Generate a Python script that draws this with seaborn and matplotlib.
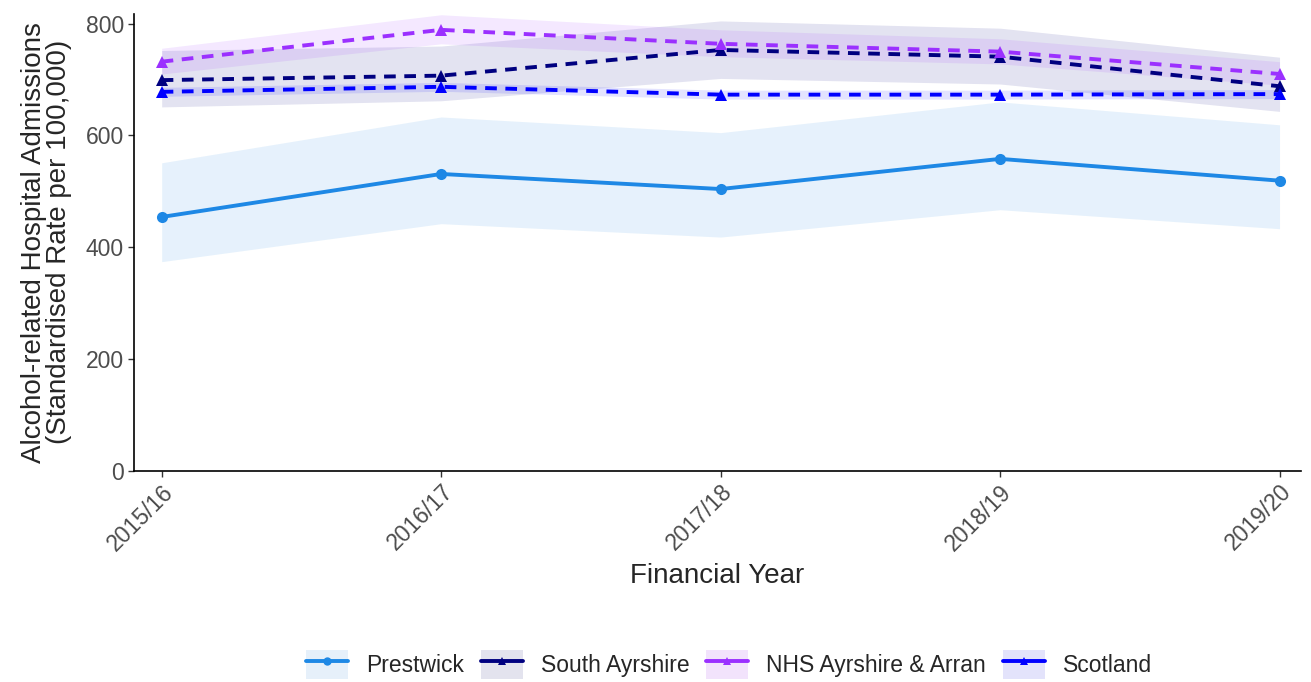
import numpy as np
import pandas as pd
import matplotlib
matplotlib.use("Agg")
import matplotlib.pyplot as plt
import seaborn as sns
from matplotlib.patches import Patch
from matplotlib.lines import Line2D
from matplotlib.legend_handler import HandlerTuple

years = ["2015/16", "2016/17", "2017/18", "2018/19", "2019/20"]
areas = ["Prestwick", "South Ayrshire", "NHS Ayrshire & Arran", "Scotland"]

prestwick = [454, 531, 504, 558, 519]
prestwick_lo = [374, 442, 418, 467, 433]
prestwick_hi = [551, 633, 605, 660, 619]

south_ayrshire = [699, 707, 753, 741, 688]
south_ayrshire_lo = [651, 662, 702, 692, 643]
south_ayrshire_hi = [752, 760, 805, 792, 740]

nhs_aa = [732, 789, 764, 750, 710]
nhs_aa_lo = [710, 764, 741, 728, 690]
nhs_aa_hi = [756, 816, 789, 773, 732]

scotland = [678, 687, 673, 673, 674]
scotland_lo = [670, 679, 665, 665, 666]
scotland_hi = [686, 695, 681, 681, 682]

colours = {"Prestwick": "#1E88E5", "South Ayrshire": "#000080",
           "NHS Ayrshire & Arran": "#9B30FF", "Scotland": "#0000FF"}
ribbons = {"Prestwick": "#E6F0FA", "South Ayrshire": "#E3E3EE",
           "NHS Ayrshire & Arran": "#F2E3FC", "Scotland": "#E3E3FB"}

vals = {"Prestwick": (prestwick, prestwick_lo, prestwick_hi),
        "South Ayrshire": (south_ayrshire, south_ayrshire_lo, south_ayrshire_hi),
        "NHS Ayrshire & Arran": (nhs_aa, nhs_aa_lo, nhs_aa_hi),
        "Scotland": (scotland, scotland_lo, scotland_hi)}

rows = []
for a in areas:
    v, lo, hi = vals[a]
    for i, y in enumerate(years):
        rows.append({"area": a, "year": y, "x": i, "rate": v[i], "lo": lo[i], "hi": hi[i]})
df = pd.DataFrame(rows)

sns.set_style("white")
plt.rcParams["font.family"] = ["Liberation Sans", "DejaVu Sans"]

fig, ax = plt.subplots(figsize=(13.11, 6.82), dpi=100)
fig.subplots_adjust(left=0.102, right=0.992, top=0.98, bottom=0.31)

# ribbons (confidence intervals)
for a in areas:
    d = df[df.area == a]
    ax.fill_between(d.x, d.lo, d.hi, color=colours[a], alpha=0.11, lw=0)

sns.lineplot(data=df, x="x", y="rate", hue="area", style="area", palette=colours,
             markers={"Prestwick": "o", "South Ayrshire": "^", "NHS Ayrshire & Arran": "^", "Scotland": "^"},
             dashes={"Prestwick": "", "South Ayrshire": (3, 2.2), "NHS Ayrshire & Arran": (3, 2.2), "Scotland": (3, 2.2)},
             linewidth=2.8, markersize=8, markeredgewidth=0, legend=False, ax=ax)

ax.set_xlim(-0.1, 4.075)
ax.set_ylim(0, 818)
ax.set_yticks([0, 200, 400, 600, 800])
ax.set_xticks(range(len(years)))
ax.set_xticklabels(years, rotation=45, ha="right", rotation_mode="anchor")
ax.tick_params(axis="both", labelsize=16.5, labelcolor="#4D4D4D", length=4, width=1, color="#333333",
               bottom=True, left=True, pad=3)
for s in ["top", "right"]:
    ax.spines[s].set_visible(False)
for s in ["left", "bottom"]:
    ax.spines[s].set_color("black")
    ax.spines[s].set_linewidth(1.2)

ax.set_xlabel("Financial Year", fontsize=20, labelpad=6)
ax.set_ylabel("Alcohol-related Hospital Admissions\n(Standardised Rate per 100,000)", fontsize=20,
              linespacing=0.95)
ax.yaxis.set_label_coords(-0.053, 0.5)

handles = []
for a in areas:
    mk = "o" if a == "Prestwick" else "^"
    handles.append((Patch(facecolor=ribbons[a], edgecolor="none"),
                    Line2D([], [], color=colours[a], lw=2.8, marker=mk, markersize=6, markeredgewidth=0, ls="-")))
fig.legend(handles, areas, handler_map={tuple: HandlerTuple(ndivide=1)}, loc="center",
           bbox_to_anchor=(0.556, 0.026), ncol=4, frameon=False, fontsize=16.5, handlelength=1.83,
           handleheight=1.57, columnspacing=0.74, handletextpad=0.78, borderpad=0.2)

fig.savefig("out.png", dpi=100)
